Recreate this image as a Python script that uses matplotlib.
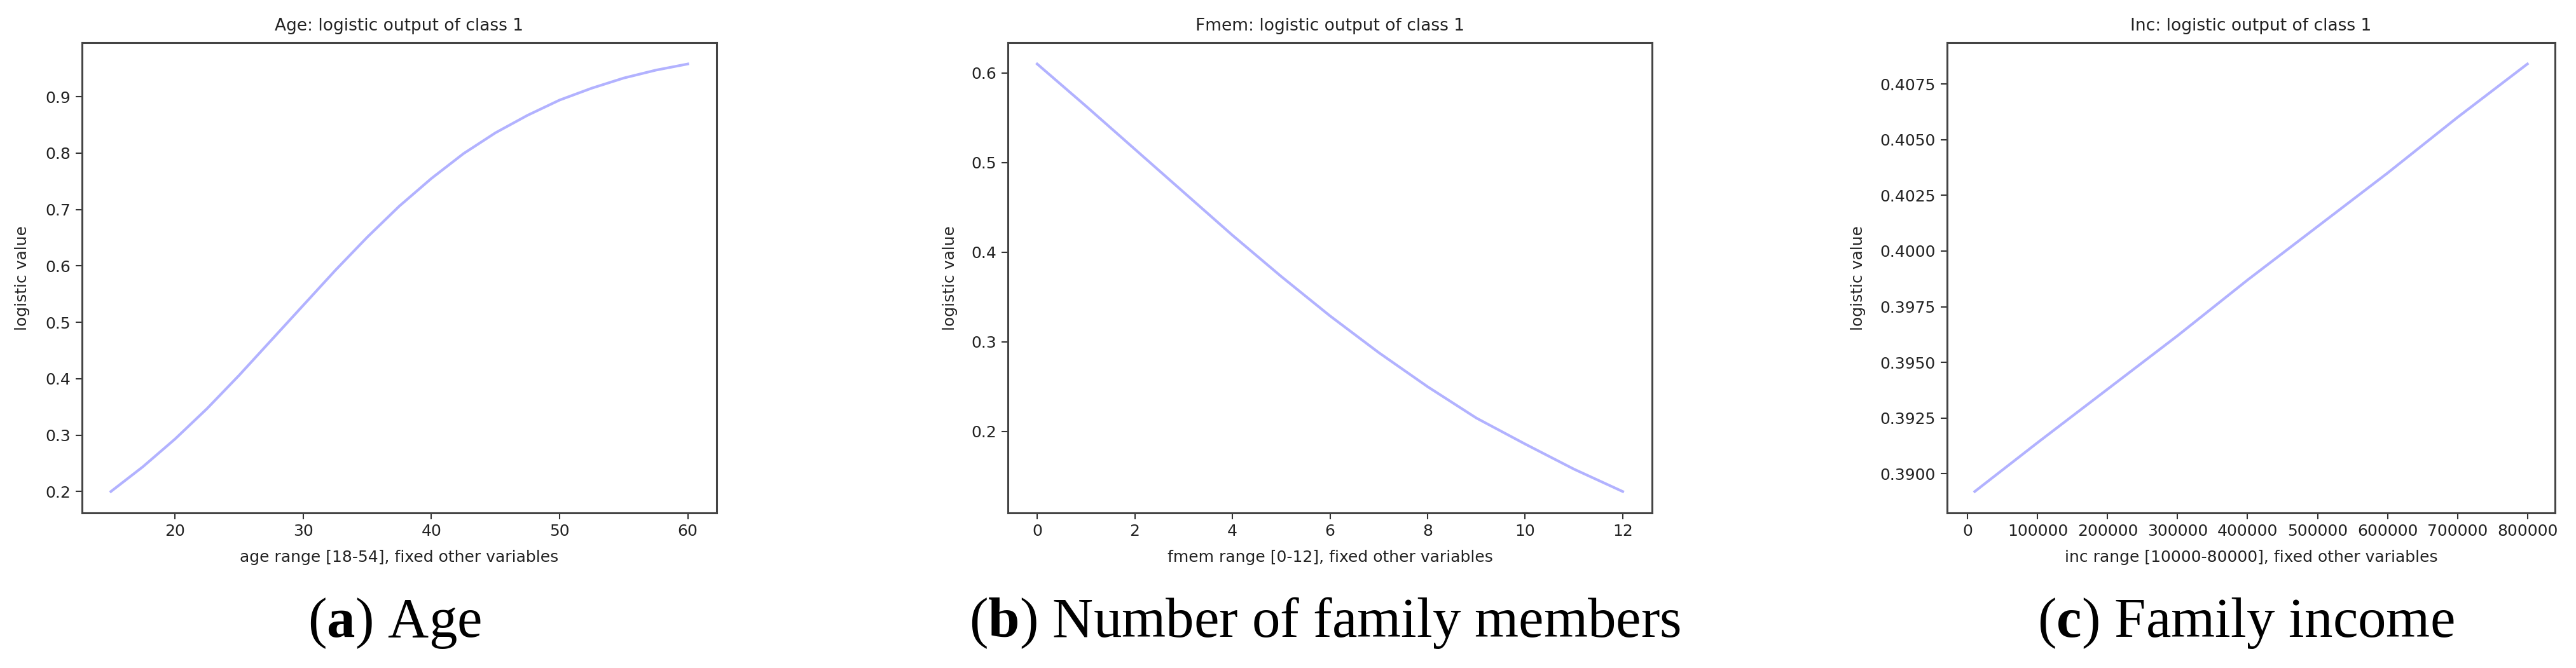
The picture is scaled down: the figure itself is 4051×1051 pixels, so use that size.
import matplotlib
matplotlib.use('Agg')
import matplotlib.pyplot as plt
from matplotlib.ticker import FormatStrFormatter

plt.rcParams['mathtext.fontset'] = 'custom'
plt.rcParams['mathtext.rm'] = 'Liberation Serif'
plt.rcParams['mathtext.bf'] = 'Liberation Serif:bold'

# values
age_x = [15, 17.5, 20, 22.5, 25, 27.5, 30, 32.5, 35, 37.5, 40, 42.5, 45, 47.5, 50, 52.5, 55, 57.5, 60]
age_y = [0.200, 0.244, 0.293, 0.347, 0.406, 0.468, 0.530, 0.592, 0.651, 0.706, 0.755,
         0.799, 0.836, 0.867, 0.894, 0.915, 0.933, 0.947, 0.958]

fmem_x = [0, 1, 2, 3, 4, 5, 6, 7, 8, 9, 10, 11, 12]
fmem_y = [0.610, 0.563, 0.515, 0.467, 0.419, 0.373, 0.329, 0.288, 0.250, 0.215, 0.186, 0.158, 0.133]

inc_x = [10000, 100000, 200000, 300000, 400000, 500000, 600000, 700000, 800000]
inc_y = [0.3892, 0.3914, 0.3938, 0.3962, 0.3987, 0.4011, 0.4035, 0.4060, 0.4084]

age_xticks = [20, 30, 40, 50, 60]
age_yticks = [0.2, 0.3, 0.4, 0.5, 0.6, 0.7, 0.8, 0.9]
fmem_xticks = [0, 2, 4, 6, 8, 10, 12]
fmem_yticks = [0.2, 0.3, 0.4, 0.5, 0.6]
inc_xticks = [0, 100000, 200000, 300000, 400000, 500000, 600000, 700000, 800000]
inc_yticks = [0.3900, 0.3925, 0.3950, 0.3975, 0.4000, 0.4025, 0.4050, 0.4075]

titles = ["Age: logistic output of class 1",
          "Fmem: logistic output of class 1",
          "Inc: logistic output of class 1"]
xlabels = ["age range [18-54], fixed other variables",
           "fmem range [0-12], fixed other variables",
           "inc range [10000-80000], fixed other variables"]
captions = [("a", " Age"), ("b", " Number of family members"), ("c", " Family income")]

W, H = 4051, 1051
fig = plt.figure(figsize=(W / 100, H / 100), dpi=100)

# axes boxes in pixels: left, right, top, bottom
boxes = [(129, 1127, 67, 807), (1585, 2598, 67, 807), (3062, 4018, 67, 807)]
ylabel_x = [35, 1494, 2922]

panels = [(age_x, age_y, age_xticks, age_yticks, '%.1f'),
          (fmem_x, fmem_y, fmem_xticks, fmem_yticks, '%.1f'),
          (inc_x, inc_y, inc_xticks, inc_yticks, '%.4f')]

for i, (xs, ys, xt, yt, yfmt) in enumerate(panels):
    l, r, t, b = boxes[i]
    ax = fig.add_axes([l / W, 1 - b / H, (r - l) / W, (b - t) / H])
    ax.plot(xs, ys, color='b', alpha=0.3, lw=3)
    ax.set_xticks(xt)
    ax.set_yticks(yt)
    ax.yaxis.set_major_formatter(FormatStrFormatter(yfmt))
    ax.xaxis.set_major_formatter(FormatStrFormatter('%d'))
    ax.tick_params(labelsize=18, length=7, width=1.5, colors='#333333', labelcolor='#222222')
    ax.tick_params(axis='x', pad=5)
    ax.tick_params(axis='y', pad=6)
    for s in ax.spines.values():
        s.set_linewidth(2.2)
        s.set_color('#444444')
    ax.set_title(titles[i], fontsize=19, pad=14, color='#222222')
    ax.set_xlabel(xlabels[i], fontsize=18, color='#222222', va='center')
    ax.xaxis.set_label_coords(0.5, -(877 - b) / (b - t))
    ax.set_ylabel("logistic value", fontsize=18, color='#222222', va='center')
    ax.yaxis.set_label_coords((ylabel_x[i] - l) / (r - l), 0.5)

    cx = ((l + r) / 2 - 8) / W
    lab, rest = captions[i]
    fig.text(cx, 1 - 1002 / H, "(" + r"$\mathbf{" + lab + "}$" + ")" + rest,
             ha='center', va='baseline', fontsize=64, family='Liberation Serif')

plt.savefig('out.png', dpi=100)
